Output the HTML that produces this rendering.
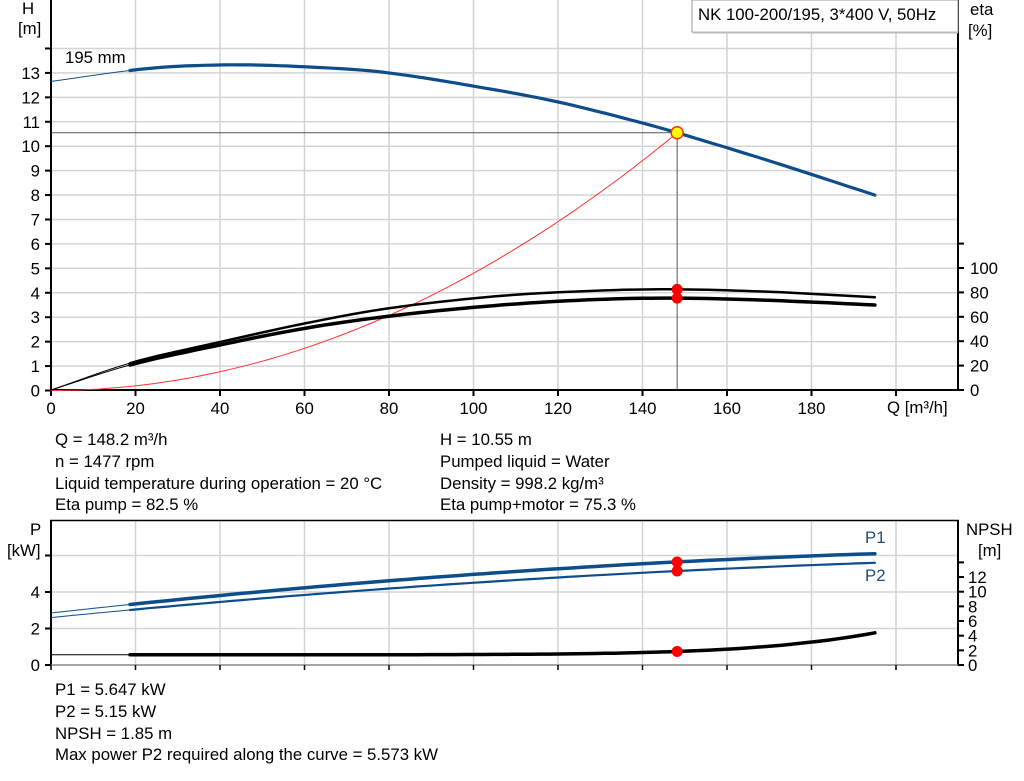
<!DOCTYPE html>
<html><head><meta charset="utf-8"><style>
body{margin:0;background:#fff;width:1024px;height:781px;overflow:hidden}
svg{display:block}
text{font-family:"Liberation Sans",Arial,sans-serif;font-size:16.8px;fill:#000}
</style></head><body>
<svg id="s" width="1024" height="781" xmlns="http://www.w3.org/2000/svg">
<g id="grid" stroke="#d4d4d4" stroke-width="1.5" fill="none"></g>
<g id="lines"></g>
<g id="labels"></g>
<rect x="692" y="0" width="266" height="32" fill="#fff" stroke="#999" stroke-width="1"/>
<line x1="693" y1="32.5" x2="958" y2="32.5" stroke="#bbb" stroke-width="2"/>
<text x="698" y="20">NK 100-200/195, 3*400 V, 50Hz</text>
<text x="22" y="14">H</text><text x="18" y="34">[m]</text>
<text x="970" y="15">eta</text><text x="968" y="36">[%]</text>
<text x="30" y="535">P</text><text x="7" y="556">[kW]</text>
<text x="966" y="535">NPSH</text><text x="978" y="556">[m]</text>
<text x="65" y="63">195 mm</text>
<text x="865" y="543" style="fill:#1f4e79">P1</text>
<text x="865" y="581" style="fill:#1f4e79">P2</text>
<text x="887" y="413">Q [m³/h]</text>
<text x="55" y="445">Q = 148.2 m³/h</text>
<text x="55" y="467">n = 1477 rpm</text>
<text x="55" y="489">Liquid temperature during operation = 20 °C</text>
<text x="55" y="510">Eta pump = 82.5 %</text>
<text x="440" y="445">H = 10.55 m</text>
<text x="440" y="467">Pumped liquid = Water</text>
<text x="440" y="489">Density = 998.2 kg/m³</text>
<text x="440" y="510">Eta pump+motor = 75.3 %</text>
<text x="55" y="695">P1 = 5.647 kW</text>
<text x="55" y="717">P2 = 5.15 kW</text>
<text x="55" y="739">NPSH = 1.85 m</text>
<text x="55" y="760">Max power P2 required along the curve = 5.573 kW</text>
</svg>
<script>
var NS="http://www.w3.org/2000/svg";
function el(p,t,a,txt){var e=document.createElementNS(NS,t);for(var k in a)e.setAttribute(k,a[k]);if(txt!=null)e.textContent=txt;document.getElementById(p).appendChild(e);return e;}
function X(q){return 51+4.225*q;}
function YH(h){return 390.5-24.43*h;}
function YE(e){return 390-1.22*e;}
function YP(p){return 665-18.25*p;}
function YN(n){return 665-7.33*n;}
for(var q=20;q<=200;q+=20)el("grid","line",{x1:X(q),y1:0,x2:X(q),y2:390});
for(var h=1;h<=14;h++)el("grid","line",{x1:51,y1:YH(h),x2:958,y2:YH(h)});
for(var q=20;q<=200;q+=20)el("grid","line",{x1:X(q),y1:520,x2:X(q),y2:665});
for(var p=2;p<=6;p+=2)el("grid","line",{x1:51,y1:YP(p),x2:958,y2:YP(p)});
var L="lines";
el(L,"line",{x1:51,y1:0,x2:51,y2:391,stroke:"#000","stroke-width":2});
el(L,"line",{x1:958,y1:0,x2:958,y2:391,stroke:"#000","stroke-width":2});
el(L,"line",{x1:50,y1:390,x2:959,y2:390,stroke:"#000","stroke-width":2});
el(L,"line",{x1:51,y1:520,x2:51,y2:666,stroke:"#000","stroke-width":2});
el(L,"line",{x1:958,y1:520,x2:958,y2:666,stroke:"#000","stroke-width":2});
el(L,"line",{x1:50,y1:520.5,x2:959,y2:520.5,stroke:"#000","stroke-width":1.5});
el(L,"line",{x1:51,y1:665,x2:958,y2:665,stroke:"#888","stroke-width":1.5});
for(var h=0;h<=14;h++){el(L,"line",{x1:45,y1:YH(h),x2:51,y2:YH(h),stroke:"#000","stroke-width":2});if(h<=13)el("labels","text",{x:40,y:YH(h)+6,"text-anchor":"end"},h);}
for(var e=0;e<=120;e+=20){el(L,"line",{x1:958,y1:YE(e),x2:964,y2:YE(e),stroke:"#000","stroke-width":2});if(e<=100)el("labels","text",{x:970,y:YE(e)+6},e);}
for(var q=0;q<=200;q+=20){el(L,"line",{x1:X(q),y1:390,x2:X(q),y2:396,stroke:"#000","stroke-width":2});if(q<=180)el("labels","text",{x:X(q),y:414,"text-anchor":"middle"},q);}
for(var p=0;p<=6;p+=2){el(L,"line",{x1:45,y1:YP(p),x2:51,y2:YP(p),stroke:"#000","stroke-width":2});if(p<=4)el("labels","text",{x:40,y:YP(p)+6,"text-anchor":"end"},p);}
for(var n=0;n<=14;n+=2){el(L,"line",{x1:958,y1:YN(n),x2:964,y2:YN(n),stroke:"#000","stroke-width":2});if(n<=12)el("labels","text",{x:968,y:YN(n)+6},n);}
for(var q=0;q<=200;q+=20)el(L,"line",{x1:X(q),y1:665,x2:X(q),y2:670,stroke:"#000","stroke-width":1.5});
function path(f,yf,a,b,w,c){var d="";for(var q=a;q<=b+1e-9;q+=(b-a)/80){d+=(d?"L":"M")+X(q).toFixed(1)+","+yf(f(q)).toFixed(1);}el(L,"path",{d:d,fill:"none",stroke:c,"stroke-width":w,"stroke-linecap":"round"});}
function spline(pts){return function(q){
 for(var i=0;i<pts.length-1;i++){if(q<=pts[i+1][0]+1e-9){var p0=pts[Math.max(0,i-1)],p1=pts[i],p2=pts[i+1],p3=pts[Math.min(pts.length-1,i+2)];var t=(q-p1[0])/(p2[0]-p1[0]);
 var m1=(p2[1]-p0[1])/(p2[0]-p0[0])*(p2[0]-p1[0]),m2=(p3[1]-p1[1])/(p3[0]-p1[0])*(p2[0]-p1[0]);var t2=t*t,t3=t2*t;
 return (2*t3-3*t2+1)*p1[1]+(t3-2*t2+t)*m1+(-2*t3+3*t2)*p2[1]+(t3-t2)*m2;}}return pts[pts.length-1][1];};}
var Hq=spline([[0,12.65],[18.7,13.1],[30,13.27],[45,13.33],[60,13.25],[78,13.04],[100,12.46],[120,11.81],[140,10.95],[148.2,10.55],[170,9.4],[195,8.0]]);
var blue="#0d4d8a";
path(function(q){return 0.00048*q*q;},YH,0,148.2,1,"#ff3030");
el(L,"line",{x1:51,y1:YH(10.55),x2:X(148.2),y2:YH(10.55),stroke:"#555","stroke-width":1});
el(L,"line",{x1:X(148.2),y1:YH(10.55),x2:X(148.2),y2:390,stroke:"#555","stroke-width":1});
path(Hq,YH,0,18.7,1,blue);path(Hq,YH,18.7,195,3.2,blue);
var E1=spline([[0,0],[18.7,22],[40,39.3],[60,54.5],[80,67],[106,77],[130,81.5],[148.2,82.5],[170,80.5],[195,76]]);
var E2=spline([[0,0],[18.7,20.5],[40,36.9],[60,50.5],[80,60.5],[106,69.5],[130,74.3],[148.2,75.3],[170,73.5],[195,69.7]]);
path(E1,YE,0,18.7,1,"#000");path(E1,YE,18.7,195,2.5,"#000");
path(E2,YE,0,18.7,1,"#000");path(E2,YE,18.7,195,3.5,"#000");
function P1(q){return 2.85+0.02585*q-4.71e-5*q*q;}
function P2(q){return 2.6+0.02297*q-3.89e-5*q*q;}
function N(q){return 1.4+0.45*Math.pow(q/148.2,6.9);}
path(P1,YP,0,18.7,1,blue);path(P1,YP,18.7,195,3.5,blue);
path(P2,YP,0,18.7,1,blue);path(P2,YP,18.7,195,2.2,blue);
path(N,YN,0,18.7,1,"#000");path(N,YN,18.7,195,3.5,"#000");
var xo=X(148.2);
el(L,"circle",{cx:xo,cy:YE(82.5),r:5.5,fill:"#ff0000"});
el(L,"circle",{cx:xo,cy:YE(75.3),r:5.5,fill:"#ff0000"});
el(L,"circle",{cx:xo,cy:YP(5.647),r:5.5,fill:"#ff0000"});
el(L,"circle",{cx:xo,cy:YP(5.15),r:5.5,fill:"#ff0000"});
el(L,"circle",{cx:xo,cy:YN(1.85),r:5.5,fill:"#ff0000"});
el(L,"circle",{cx:xo,cy:YH(10.55),r:6,fill:"#ffff00",stroke:"#ff3000","stroke-width":1.5});
</script>
</body></html>
